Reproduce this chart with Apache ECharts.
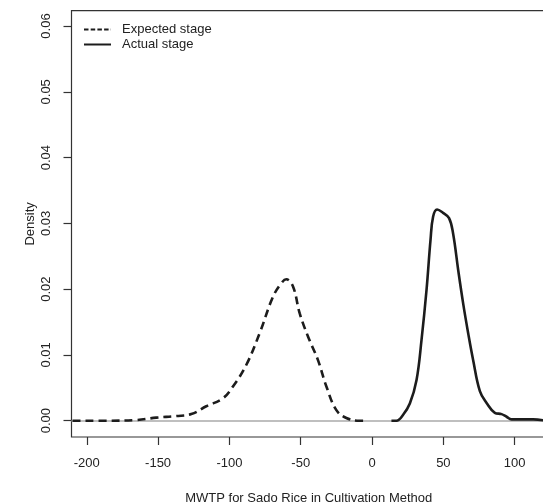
<!DOCTYPE html>
<html>
<head>
<meta charset="utf-8">
<script src="https://cdn.jsdelivr.net/npm/echarts@6/dist/echarts.min.js"></script>
<style>
  html, body { margin: 0; padding: 0; background: #fff; }
  #app { width: 543px; height: 503px; }
</style>
</head>
<body>
<div id="app"></div>
<script>
// density curves
var expectedX = [-210, -184, -165.4, -151.3, -137.3, -126.7, -116.2, -104.6, -97.5, -88.1, -78.8, -69.5, -63.6, -60.1, -55.4, -50.7, -44.9, -37.9, -32, -25, -18, -8.6, -2.8];
var expectedY = [0, 0, 0.0001, 0.00046, 0.0007, 0.001, 0.0022, 0.0034, 0.0052, 0.0085, 0.0133, 0.0188, 0.0209, 0.0215, 0.0204, 0.0163, 0.0128, 0.0092, 0.0052, 0.0016, 0.0004, 0, 0];
var actualX = [13.6, 17.1, 21.8, 26.5, 31.2, 34.7, 38.2, 41, 42.8, 45.6, 49.8, 54, 56.8, 60.4, 63.9, 67.4, 70.9, 75.6, 80.3, 86.1, 90.8, 94.3, 97.8, 113, 122];
var actualY = [0, 0, 0.0009, 0.0026, 0.0062, 0.0123, 0.0199, 0.0275, 0.031, 0.0321, 0.0316, 0.0308, 0.0285, 0.0229, 0.0178, 0.0133, 0.0092, 0.0045, 0.0027, 0.0012, 0.001, 0.0006, 0.0002, 0.0002, 0];
var xTicks = [-200, -150, -100, -50, 0, 50, 100];
var yTicks = [0, 0.01, 0.02, 0.03, 0.04, 0.05, 0.06];
var seriesNames = ['Expected stage', 'Actual stage'];

function pairs(xs, ys) {
    return xs.map(function (x, i) { return [x, ys[i]]; });
}

var font = '"Liberation Sans", Arial, sans-serif';
var ink = '#222';

var chart = echarts.init(document.getElementById('app'), null, { renderer: 'canvas' });
chart.setOption({
    animation: false,
    textStyle: { fontFamily: font },
    grid: {
        left: 71.5, top: 10.7, right: -3, bottom: 66,
        outerBoundsMode: 'none', containLabel: false,
        show: true, borderColor: '#333', borderWidth: 1.2, backgroundColor: 'transparent'
    },
    legend: {
        orient: 'vertical',
        left: 83, top: 23, padding: 0,
        itemWidth: 27, itemHeight: 10, itemGap: 2,
        textStyle: { fontSize: 13, color: ink, fontFamily: font, padding: [0, 0, 0, 6] },
        data: [
            { name: seriesNames[0], itemStyle: { opacity: 0 }, lineStyle: { width: 2, type: [4.5, 2.2] } },
            { name: seriesNames[1], itemStyle: { opacity: 0 }, lineStyle: { width: 2 } }
        ]
    },
    xAxis: {
        type: 'value',
        min: -210.7, max: 121.96,
        name: 'MWTP for Sado Rice in Cultivation Method',
        nameLocation: 'middle', nameGap: 55, nameMoveOverlap: false,
        nameTextStyle: { fontSize: 13, color: ink, fontFamily: font },
        splitLine: { show: false },
        axisLine: { show: false, onZero: false },
        axisTick: { show: true, length: 8, lineStyle: { color: '#333', width: 1.2 }, customValues: xTicks },
        axisLabel: { fontSize: 13, color: ink, margin: 20, customValues: xTicks, fontFamily: font }
    },
    yAxis: {
        type: 'value',
        min: -0.00248, max: 0.06233,
        name: 'Density',
        nameLocation: 'middle', nameGap: 35, nameMoveOverlap: false,
        nameTextStyle: { fontSize: 13, color: ink, fontFamily: font },
        splitLine: { show: false },
        axisLine: { show: false, onZero: false },
        axisTick: { show: true, length: 8, lineStyle: { color: '#333', width: 1.2 }, customValues: yTicks },
        axisLabel: {
            fontSize: 13, color: ink, margin: 19, rotate: 90, customValues: yTicks, fontFamily: font,
            formatter: function (v) { return v.toFixed(2); }
        }
    },
    series: [
        {
            name: seriesNames[0],
            type: 'line',
            z: 3,
            data: pairs(expectedX, expectedY),
            symbol: 'none',
            smooth: 0.4,
            lineStyle: { color: '#1c1c1c', width: 2.6, type: [8, 5] },
            itemStyle: { color: '#1c1c1c' },
            markLine: {
                silent: true,
                z: 1,
                symbol: 'none',
                label: { show: false },
                lineStyle: { color: '#aaa', width: 1.5, type: 'solid' },
                data: [{ yAxis: 0 }]
            }
        },
        {
            name: seriesNames[1],
            type: 'line',
            z: 3,
            data: pairs(actualX, actualY),
            symbol: 'none',
            smooth: 0.4,
            lineStyle: { color: '#1c1c1c', width: 2.6 },
            itemStyle: { color: '#1c1c1c' }
        }
    ]
});
</script>
</body>
</html>
